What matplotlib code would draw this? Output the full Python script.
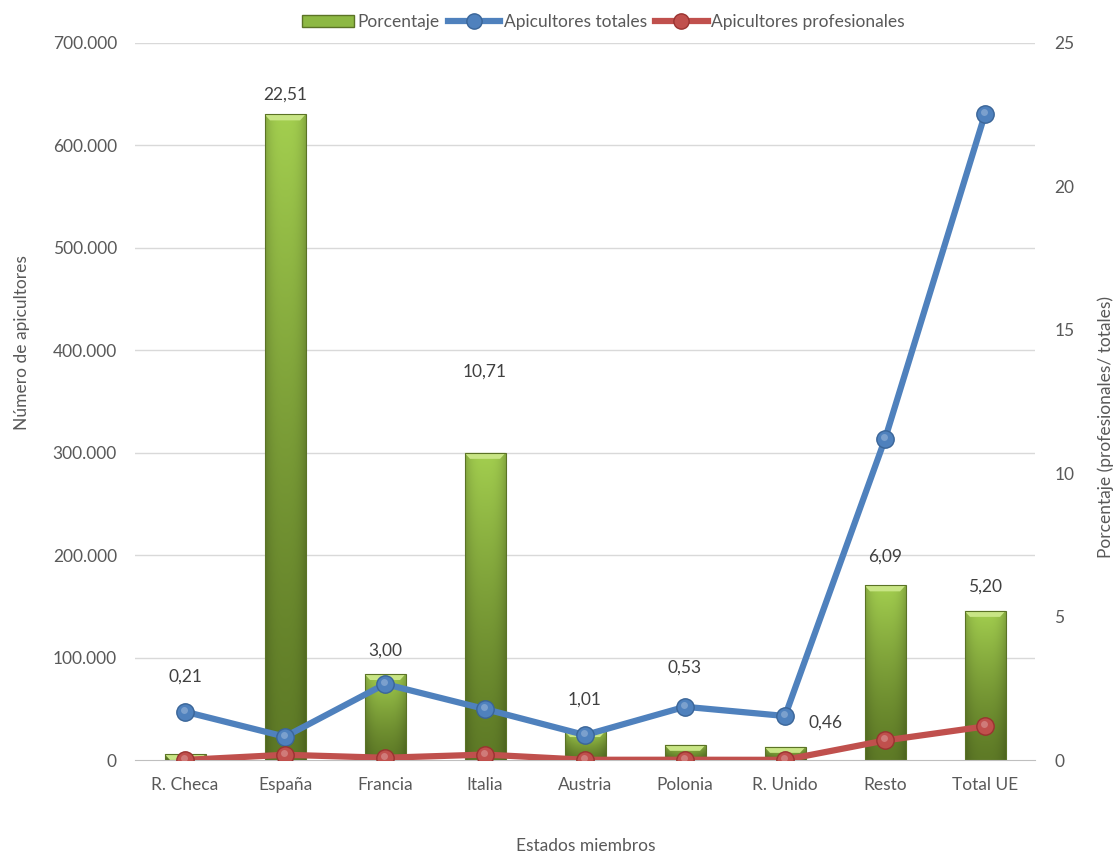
import matplotlib

matplotlib.use("Agg")
import matplotlib.pyplot as plt
import numpy as np
from matplotlib.lines import Line2D
from matplotlib.patches import Patch, Polygon
from matplotlib.ticker import FuncFormatter

# data
paises = ["R. Checa", "España", "Francia", "Italia", "Austria", "Polonia",
          "R. Unido", "Resto", "Total UE"]
porcentaje = [0.21, 22.51, 3.00, 10.71, 1.01, 0.53, 0.46, 6.09, 5.20]
apic_totales = [47200, 22800, 74200, 49800, 24400, 52000, 43000, 313400, 630700]
apic_profesionales = [100, 5130, 2230, 5330, 250, 280, 200, 19090, 32800]
etiquetas = ["0,21", "22,51", "3,00", "10,71", "1,01", "0,53", "0,46", "6,09", "5,20"]

# label offsets in pixels (dx, dy) from the bar top, as placed in the original
label_offsets = [(0, 77), (0, 20), (0, 23), (0, 81), (0, 31), (0, 77), (40, 24), (0, 29), (0, 24)]

TXT = "#595959"
BLUE = "#4F81BD"
RED = "#C0504D"
plt.rcParams["font.family"] = ["Lato", "DejaVu Sans"]
FS = 12.5

fig = plt.figure(figsize=(11.17, 8.56), dpi=100)
ax_pct = fig.add_axes([0.1209, 0.1121, 0.8057, 0.8377])
ax_n = ax_pct.twinx()

x = np.arange(len(paises))
bar_w = 0.41
N_MAX = 700000
P_MAX = 25

# gridlines belong to the left scale but sit behind the bars
for g in range(100000, N_MAX + 1, 100000):
    ax_pct.axhline(g * P_MAX / N_MAX, color="#D9D9D9", lw=1, zorder=0)

dark = np.array([0.37, 0.48, 0.15])
light = np.array([0.64, 0.81, 0.31])
u = np.linspace(0, 1, 64)
v = np.linspace(0, 1, 256)
edge = np.abs(u - 0.5) * 2
shade = 1 - 0.18 * edge ** 3
grad = (dark[None, None, :] + (light - dark)[None, None, :] * v[:, None, None] ** 1.3)
grad = grad * shade[None, :, None]

bars = ax_pct.bar(x, porcentaje, width=bar_w, color="none",
                  edgecolor="#5B7326", linewidth=0.8, zorder=2)
cap_h = 6 * P_MAX / 717.0
cap_d = 0.055
for rect, h in zip(bars, porcentaje):
    x0 = rect.get_x()
    x1 = x0 + rect.get_width()
    im = ax_pct.imshow(grad, extent=[x0, x1, 0, h], origin="lower",
                       aspect="auto", zorder=1, interpolation="bilinear")
    im.set_clip_path(rect)
    ch = min(cap_h, h)
    cap = Polygon([[x0, h], [x1, h], [x1 - cap_d, h - ch], [x0 + cap_d, h - ch]],
                  closed=True, facecolor="#C8E585", edgecolor="none", zorder=1.5)
    ax_pct.add_patch(cap)

for xi, h, lab, (dx, dy) in zip(x, porcentaje, etiquetas, label_offsets):
    ax_pct.annotate(lab, (xi, h), xytext=(dx, dy), textcoords="offset pixels",
                    ha="center", va="center", fontsize=FS, color="#404040")

ax_pct.set_xlim(-0.5, len(paises) - 0.5)
ax_pct.set_ylim(0, P_MAX)
ax_pct.set_yticks(range(0, P_MAX + 1, 5))
ax_pct.yaxis.tick_right()
ax_pct.set_xticks(x)
ax_pct.set_xticklabels(paises)

for yv, col, dk in [(apic_totales, BLUE, "#3A6598"), (apic_profesionales, RED, "#9A3330")]:
    ax_n.plot(x, yv, color=col, lw=4.5, marker="o", ms=12.5, mfc=col, mec=dk,
              mew=1.0, solid_capstyle="round", zorder=3)
    ax_n.plot(x - 0.01, np.array(yv) + 2000, ls="none", marker="o", ms=5,
              mfc="white", mec="none", alpha=0.25, zorder=4)

ax_n.set_ylim(0, N_MAX)
ax_n.set_yticks(range(0, N_MAX + 1, 100000))
ax_n.yaxis.tick_left()
ax_n.yaxis.set_major_formatter(FuncFormatter(lambda v, p: f"{int(v):,}".replace(",", ".")))

for a in (ax_pct, ax_n):
    for s in a.spines.values():
        s.set_visible(False)
    a.tick_params(length=0, labelsize=FS, colors=TXT)
ax_pct.spines["bottom"].set_visible(True)
ax_pct.spines["bottom"].set_color("#BFBFBF")
ax_pct.tick_params(axis="x", pad=12)
ax_pct.tick_params(axis="y", pad=14)
ax_n.tick_params(axis="y", pad=13)

fig.text(0.0197, 0.60, "Número de apicultores", rotation=90, ha="center",
         va="center", fontsize=FS, color=TXT)
fig.text(0.990, 0.501, "Porcentaje (profesionales/ totales)", rotation=90,
         ha="center", va="center", fontsize=FS, color=TXT)
fig.text(0.5246, 0.012, "Estados miembros", ha="center", va="center",
         fontsize=FS, color=TXT)

handles = [
    Patch(facecolor="#8DB843", edgecolor="#5B7326"),
    Line2D([], [], color=BLUE, lw=4.5, marker="o", ms=11, mfc=BLUE, mec="#3A6598"),
    Line2D([], [], color=RED, lw=4.5, marker="o", ms=11, mfc=RED, mec="#9A3330"),
]
fig.legend(handles, ["Porcentaje", "Apicultores totales", "Apicultores profesionales"],
           loc="center", bbox_to_anchor=(0.54, 0.974), ncol=3, frameon=False,
           fontsize=FS, labelcolor=TXT, handlelength=3.0, handletextpad=0.2,
           columnspacing=0.5)

fig.savefig("out.png", dpi=100)
